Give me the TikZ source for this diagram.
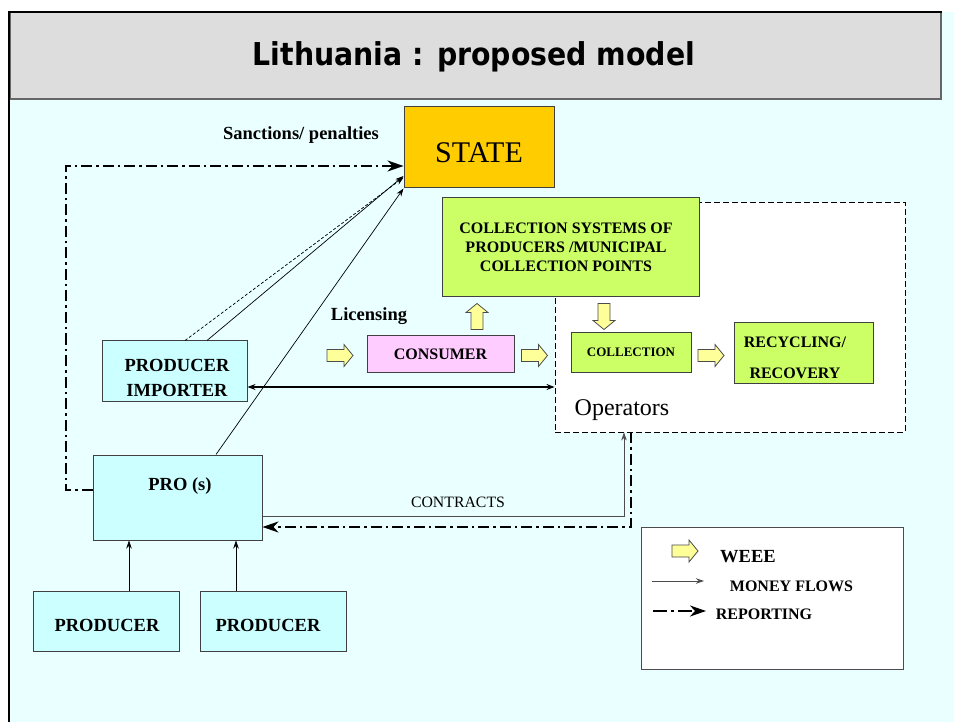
\documentclass[tikz,border=0pt]{standalone}
\usepackage{fontspec}
\setmainfont{Liberation Serif}
\newfontfamily\titlefont[FakeStretch=0.9]{DejaVu Sans}
\usetikzlibrary{arrows.meta}
\definecolor{bgc}{RGB}{234,255,255}
\definecolor{titlegray}{RGB}{221,221,221}
\definecolor{boxcyan}{RGB}{204,255,255}
\definecolor{stateorange}{RGB}{255,204,0}
\definecolor{boxgreen}{RGB}{204,255,102}
\definecolor{boxpink}{RGB}{255,204,255}
\definecolor{weeefill}{RGB}{255,255,153}
\newcommand{\bigbold}{\bfseries\fontsize{18.5}{25}\selectfont}
\newcommand{\midbold}{\bfseries\fontsize{16}{19}\selectfont}
\tikzset{
  box/.style={draw=black!75, line width=1pt, inner sep=0pt, rectangle, align=center},
  txt/.style={inner sep=0pt, align=center},
  money/.style={line width=0.7pt, -{Stealth[length=8pt,width=5.5pt]}},
  report/.style={line width=2pt, dash pattern=on 11pt off 4pt on 2.5pt off 4pt, -{Stealth[length=16pt,width=11pt,inset=5pt]}},
  pics/blockarrow/.style={code={\draw[fill=weeefill, draw=black!70, line width=0.8pt]
     (-13,-6) -- (4,-6) -- (4,-11) -- (13,0) -- (4,11) -- (4,6) -- (-13,6) -- cycle;}}
}
\begin{document}
\begin{tikzpicture}[x=1pt,y=-1pt]
\useasboundingbox (0,0) rectangle (954,722);
\fill[white] (0,0) rectangle (954,722);
\fill[bgc] (10,12) rectangle (954,722);
% title
\node[box, fill=titlegray, draw=black!60, line width=1.5pt, minimum width=931, minimum height=87] (title) at (475.5,55.5) {};
\node[txt, anchor=base, font=\titlefont\bfseries\fontsize{31.5}{34}\selectfont] (titletext) at (474,66) {Lithuania : proposed model};
\draw[line width=2.5pt] (9,722) -- (9,12) -- (942,12);

% operators region
\node[draw=black, line width=0.9pt, dash pattern=on 6pt off 3pt, fill=white, minimum width=350, minimum height=230, inner sep=0pt] (ops) at (730,317) {};
\node[txt, font=\fontsize{24}{26}\selectfont] (opstext) at (622,410) {Operators};

% boxes
\node[box, fill=stateorange, minimum width=150, minimum height=81] (state) at (479,147.5) {};
\node[txt, font=\fontsize{30}{32}\selectfont] (statetext) at (479,153) {STATE};
\node[box, fill=boxgreen, minimum width=257, minimum height=99] (colsys) at (570.5,247.5) {};
\node[txt, font=\midbold] (colsystext) at (566,247) {COLLECTION SYSTEMS OF\\PRODUCERS /MUNICIPAL\\COLLECTION POINTS};
\node[box, fill=boxcyan, minimum width=145, minimum height=60] (prodimp) at (174.5,371) {};
\node[txt, font=\bigbold] (prodimptext) at (177,378) {PRODUCER\\IMPORTER};
\node[box, fill=boxcyan, minimum width=169, minimum height=85] (pro) at (177.5,497.5) {};
\node[txt, font=\bigbold] (protext) at (180,486) {PRO (s)};
\node[box, fill=boxcyan, minimum width=146, minimum height=60] (prod1) at (106,621) {};
\node[txt, font=\bigbold] (prod1text) at (107,625) {PRODUCER};
\node[box, fill=boxcyan, minimum width=146, minimum height=60] (prod2) at (273,621) {};
\node[txt, font=\bigbold] (prod2text) at (268,625) {PRODUCER};
\node[box, fill=boxpink, minimum width=147, minimum height=36, font=\midbold] (consumer) at (440.5,354) {CONSUMER};
\node[box, fill=boxgreen, minimum width=120, minimum height=39, font=\bfseries\fontsize{13}{15}\selectfont] (collection) at (631,352.5) {COLLECTION};
\node[box, fill=boxgreen, minimum width=139, minimum height=60] (recycling) at (803.5,353) {};
\node[txt, font=\bfseries\fontsize{16}{31}\selectfont] (recyclingtext) at (795,358) {RECYCLING/\\RECOVERY};

% labels
\node[txt, font=\bigbold] (sanctions) at (301,135) {Sanctions/ penalties};
\node[txt, font=\bigbold] (licensing) at (369,316) {Licensing};
\node[txt, font=\fontsize{15.8}{17}\selectfont] (contracts) at (458,502) {CONTRACTS};

% WEEE block arrows
\pic (w1) at (340,355.5) {blockarrow};
\pic (w2) at (534.5,355.5) {blockarrow};
\pic (w3) at (711,355.5) {blockarrow};
\pic[rotate=90] (wup) at (477,316.5) {blockarrow};
\pic[rotate=-90] (wdown) at (604,316.5) {blockarrow};

% money flows to state
\draw[money, dashed, dash pattern=on 3pt off 2pt] ([xshift=10.5]prodimp.north) -- ([yshift=-30]state.west);
\draw[money] ([xshift=32.5]prodimp.north) -- ([yshift=-28.5]state.west);
\draw[money] ([xshift=38.5]pro.north) -- (state.south west);
% producer -> PRO
\draw[money] ([xshift=23]prod1.north) -- ([xshift=23]prod1.north |- pro.south);
\draw[money] ([xshift=-37]prod2.north) -- ([xshift=-37]prod2.north |- pro.south);
% double arrow
\draw[line width=1.5pt, {Stealth[length=8pt,width=6pt]}-{Stealth[length=8pt,width=6pt]}]
  ([yshift=-16]prodimp.east) -- ([yshift=-16]prodimp.east -| ops.west);
% contracts
\draw[money, draw=black!70] ([yshift=-18.5]pro.east) -| ([xshift=-106]ops.south);
% reporting
\draw[report] ([xshift=-99]ops.south) |- ([yshift=-29.5]pro.east);
\coordinate (rl) at (66,490);
\coordinate (ru) at (66,166);
\draw[report] ([yshift=7.5]pro.west) -- (rl) -- (ru) -- ([yshift=-18.5]state.west);

% legend
\node[draw=black!70, line width=1pt, fill=white, minimum width=262, minimum height=142, inner sep=0pt] (legend) at (772,598) {};
\pic (lw) at (685,551) {blockarrow};
\node[txt, font=\bigbold] (lweee) at (748,557) {WEEE};
\coordinate (lm1) at (652,581);
\coordinate (lm2) at (704,581);
\draw[money, draw=black!70, line width=1pt] (lm1) -- (lm2);
\node[txt, font=\midbold] (lmoney) at (791.5,586) {MONEY FLOWS};
\coordinate (lr1) at (653,611);
\coordinate (lr2) at (706,611);
\draw[report, dash pattern=on 14pt off 4pt on 3pt off 4pt] (lr1) -- (lr2);
\node[txt, font=\midbold] (lreport) at (764,614) {REPORTING};
\end{tikzpicture}
\end{document}
